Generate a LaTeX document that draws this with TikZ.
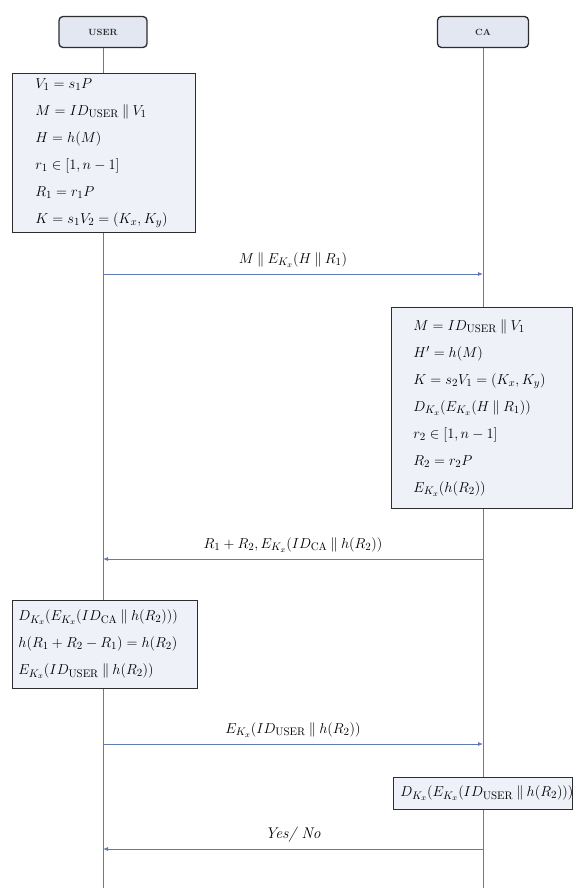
\documentclass[tikz,border=0pt]{standalone}
\usetikzlibrary{arrows.meta}
\definecolor{lifeblue}{RGB}{95,122,178}
\definecolor{boxfill}{RGB}{238,241,248}
\definecolor{headfill}{RGB}{226,231,242}
\definecolor{boxline}{RGB}{45,45,45}
\newcommand{\cat}{\mathbin{\|}}
\newcommand{\sub}[1]{\mathrm{#1}}
\begin{document}
\begin{tikzpicture}[x=1pt,y=-1pt,
  head/.style={draw=boxline, line width=1.3pt, fill=headfill, rounded corners=4pt,
    minimum height=31pt, font=\bfseries\fontsize{9}{10}\selectfont, text=boxline},
  life/.style={draw=lifeblue, line width=0.8pt},
  msg/.style={draw=lifeblue, line width=0.8pt, -{Latex[length=5pt,width=4pt]}},
  calc/.style={draw=boxline, line width=0.9pt, fill=boxfill, align=left, anchor=north west,
    font=\fontsize{15.5}{27}\selectfont, inner ysep=0pt},
  lbl/.style={font=\fontsize{15.5}{17}\selectfont, inner sep=1pt, above=5pt}]
\useasboundingbox (0,0) rectangle (574,888);
\fill[white] (0,0) rectangle (574,888);
% headers
\node[head, minimum width=88pt] (user) at (103,32) {USER};
\node[head, minimum width=91pt] (ca) at (483,32) {CA};
% lifelines
\coordinate (uend) at (103,888);
\coordinate (cend) at (483,888);
\draw[life] (user.south) -- (uend);
\draw[life] (ca.south) -- (cend);
% user box 1
\node[calc, text width=137pt, inner xsep=23pt, minimum height=159pt] (b1) at (12,73) {%
$V_1 = s_1P$\\
$M = ID_{\sub{USER}} \cat V_1$\\
$H = h(M)$\\
$r_1 \in [1, n-1]$\\
$R_1 = r_1P$\\
$K = s_1V_2 = (K_x, K_y)$};
% message 1
\coordinate (u1) at (103,274);
\coordinate (c1) at (483,274);
\draw[msg] (u1) -- node[lbl] (m1) {$M \cat E_{K_x}(H \cat R_1)$} (c1);
% CA box 1
\node[calc, text width=137pt, inner xsep=22pt, minimum height=201pt] (b2) at (391,307) {%
$M = ID_{\sub{USER}} \cat V_1$\\
$H' = h(M)$\\
$K = s_2V_1 = (K_x, K_y)$\\
$D_{K_x}(E_{K_x}(H \cat R_1))$\\
$r_2 \in [1, n-1]$\\
$R_2 = r_2P$\\
$E_{K_x}(h(R_2))$};
% message 2
\coordinate (c2) at (483,559);
\coordinate (u2) at (103,559);
\draw[msg] (c2) -- node[lbl] (m2) {$R_1 + R_2, E_{K_x}(ID_{\sub{CA}} \cat h(R_2))$} (u2);
% user box 2
\node[calc, text width=173pt, inner xsep=6pt, minimum height=88pt] (b3) at (12,600) {%
\mbox{$D_{K_x}(E_{K_x}(ID_{\sub{CA}} \cat h(R_2)))$}\\
\mbox{$h(R_1 + R_2 - R_1) = h(R_2)$}\\
\mbox{$E_{K_x}(ID_{\sub{USER}} \cat h(R_2))$}};
% message 3
\coordinate (u3) at (103,744);
\coordinate (c3) at (483,744);
\draw[msg] (u3) -- node[lbl] (m3) {$E_{K_x}(ID_{\sub{USER}} \cat h(R_2))$} (c3);
% CA box 2
\node[calc, text width=165pt, inner xsep=7pt, minimum height=32pt] (b4) at (393,777) {%
\mbox{$D_{K_x}(E_{K_x}(ID_{\sub{USER}} \cat h(R_2)))$}};
% message 4
\coordinate (c4) at (483,849);
\coordinate (u4) at (103,849);
\draw[msg] (c4) -- node[lbl] (m4) {\itshape Yes/ No} (u4);
\end{tikzpicture}
\end{document}
